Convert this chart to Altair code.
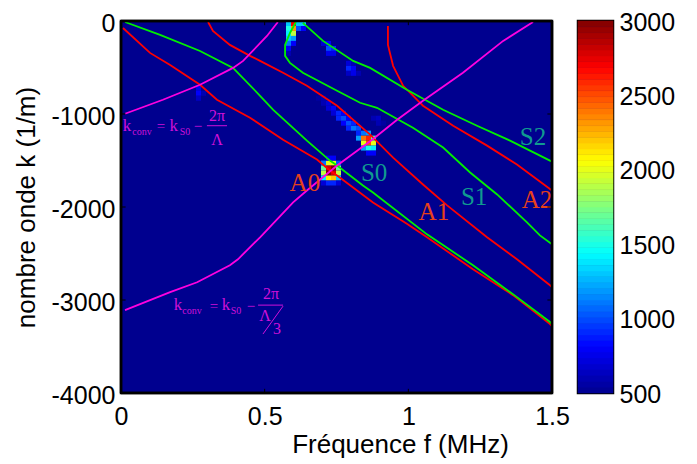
import altair as alt
import pandas as pd
import numpy as np

A0_f = [.007,.101,.171,.275,.334,.449,.564,.682,.727,.752,.877,.995,1.065,1.225,1.364,1.493,1.5]
A0_k = [-75,-343,-472,-686,-847,-1040,-1276,-1490,-1608,-1662,-1951,-2180,-2326,-2669,-2948,-3259,-3280]
S0_f = [.014,.136,.275,.390,.484,.529,.647,.727,.752,.842,.877,1.065,1.225,1.364,1.493,1.5]
S0_k = [-11,-150,-322,-504,-804,-954,-1286,-1501,-1554,-1769,-1844,-2294,-2626,-2937,-3237,-3260]
A1_f = [.303,.320,.379,.449,.484,.564,.647,.752,.867,.947,1.051,1.135,1.274,1.378,1.493,1.5]
A1_k = [-11,-107,-257,-375,-429,-557,-697,-911,-1222,-1469,-1758,-1983,-2326,-2562,-2841,-2860]
S1_f = [.609,.588,.571,.571,.588,.633,.752,.832,.891,1.016,1.121,1.215,1.309,1.413,1.458,1.5]
S1_k = [-11,-129,-257,-375,-450,-557,-750,-879,-933,-1147,-1361,-1629,-1865,-2165,-2305,-2401]
S2_f = [.633,.703,.808,.867,.995,1.121,1.239,1.354,1.5]
S2_k = [-21,-214,-429,-504,-740,-954,-1126,-1286,-1512]
A2_f = [.929,.929,.947,.982,1.051,1.156,1.274,1.378,1.5]
A2_k = [-54,-257,-482,-697,-911,-1126,-1340,-1544,-1822]
M1_f = [.014,.146,.275,.390,.425,.508,.546]
M1_k = [-997,-847,-686,-504,-429,-161,-11]
M2_f = [.014,.171,.265,.379,.407,.484,.599,.647,.752,.874,.961,1.051,1.190,1.330,1.434]
M2_k = [-3109,-2916,-2809,-2626,-2562,-2326,-1951,-1822,-1554,-1276,-1061,-858,-557,-214,-11]

# hot cells of the spectrum: (grid column, grid row, amplitude)
heat_cells = [
    (40,28,1100),(41,28,2000),(42,28,2000),(43,28,1000),
    (40,29,1700),(41,29,2800),(42,29,3000),(43,29,1700),
    (40,30,1900),(41,30,3000),(42,30,2800),(43,30,1900),
    (40,31,1400),(41,31,2100),(42,31,2200),(43,31,1300),
    (40,32,700),(41,32,900),(42,32,900),(43,32,700),(41,27,800),(42,27,800),
    (47,22,900),(48,22,1100),(49,22,1200),
    (47,23,1200),(48,23,2400),(49,23,2600),(50,23,1600),
    (48,24,2000),(49,24,2500),(50,24,2000),
    (48,25,1200),(49,25,1500),(50,25,1400),(49,26,800),(50,26,800),
    (45,21,900),(46,21,1100),(47,21,1000),(44,20,800),(45,20,1000),(46,20,900),
    (43,19,900),(44,19,1000),(45,19,800),(42,18,700),(43,18,900),(44,18,800),
    (41,17,700),(42,17,800),(40,16,600),(41,16,700),(39,15,550),(40,15,600),
    (40,4,700),(41,4,800),(41,5,1000),(42,5,900),(41,6,750),(42,6,750),
    (45,8,700),(46,8,600),(45,9,900),(46,9,800),(45,10,650),(46,10,750),(47,10,600),
    (50,19,600),(51,19,650),(51,20,600),(52,20,550),
    (15,13,750),(15,14,800),(16,14,600),(15,15,650),
    (33,0,1300),(34,0,2700),(35,0,1300),(36,0,1300),
    (33,1,1500),(34,1,2300),(35,1,1000),(36,1,800),
    (33,2,1400),(34,2,1900),(33,3,1300),(34,3,1200),
    (33,4,1100),(34,4,800),(33,5,800),(33,6,600),
]

mode_labels = ["A0","S0","A1","S1","A2","S2"]
mode_f = [.640,.881,1.089,1.229,1.448,1.434]
mode_k = [-1737,-1630,-2058,-1897,-1930,-1243]
mode_colors = ["#e8401a","#109a90","#e8401a","#109a90","#e8401a","#109a90"]

formula_text = ["k","conv","=","k","S0","−","2π","Λ", "k","conv","=","k","S0","−","2π","Λ","3"]
formula_f = [.021,.073,.139,.184,.223,.268,.334,.334, .198,.247,.324,.365,.400,.452,.522,.501,.543]
formula_k = [-1126,-1190,-1126,-1126,-1190,-1126,-1018,-1276, -3055,-3120,-3066,-3055,-3120,-3066,-2937,-3173,-3312]
formula_size = [17,10,15,17,10,15,16,16, 17,10,15,17,10,15,16,16,16]
bars_f = [.299,.477,.494]
bars_f2 = [.369,.564,.564]
bars_k = [-1126,-3055,-3366]
bars_k2 = [-1126,-3055,-3066]

x_ticks = [0,0.5,1,1.5]
y_ticks = [0,-1000,-2000,-3000,-4000]
c_ticks = [500,1000,1500,2000,2500,3000]
jet_domain = [500,812,1437,2062,2687,3000]
jet_range = ["#00008f","#0000ff","#00ffff","#ffff00","#ff0000","#800000"]
bar_levels = np.linspace(500,3000,65).tolist()

FONT = "Liberation Sans"
SERIF = "Liberation Serif"
BG = "#00008f"
color_scale = alt.Scale(domain=jet_domain, range=jet_range, interpolate="rgb", clamp=True)
xs = alt.Scale(domain=[0,1.5], nice=False, zero=False)
ys = alt.Scale(domain=[-4000,0], nice=False, zero=False)

x_axis = alt.Axis(values=x_ticks, title="Fréquence f (MHz)", ticks=False, domain=False, grid=False,
        labelExpr="'' + datum.value", labelFont=FONT, labelFontSize=25, labelColor="black",
        labelPadding=11, labelFlush=False, titleFont=FONT, titleFontSize=26, titleFontWeight="normal",
        titleColor="black", titlePadding=2, titleX=279)
y_axis = alt.Axis(values=y_ticks, title="nombre onde k (1/m)", ticks=False, domain=False, grid=False,
        labelExpr="'' + datum.value", labelFont=FONT, labelFontSize=25, labelColor="black",
        labelPadding=6, labelFlush=False, labelOffset=2, titleFont=FONT, titleFontSize=26, titleFontWeight="normal",
        titleColor="black", titlePadding=12)

def X(field):
    return alt.X(field + ":Q", scale=xs, axis=x_axis, title="Fréquence f (MHz)")
def Y(field):
    return alt.Y(field + ":Q", scale=ys, axis=y_axis, title="nombre onde k (1/m)")

heat = pd.DataFrame(heat_cells, columns=["col","row","v"])
heat_layer = alt.Chart(heat).transform_calculate(
    f="datum.col*0.0174", f2="(datum.col+1)*0.0174",
    k="-datum.row*53.6", k2="-(datum.row+1)*53.6",
).mark_rect().encode(
    x=X("f"), x2="f2:Q", y=Y("k"), y2="k2:Q",
    color=alt.Color("v:Q", scale=color_scale, legend=None),
)

def curve(f, k, color):
    return alt.Chart(pd.DataFrame({"f":f,"k":k,"i":list(range(len(f)))})).mark_line(
        color=color, strokeWidth=1.8).encode(x=X("f"), y=Y("k"), order="i:Q")

curves = [curve(A0_f,A0_k,"#ff0000"), curve(A1_f,A1_k,"#ff0000"), curve(A2_f,A2_k,"#ff0000"),
          curve(S0_f,S0_k,"#00f000"), curve(S1_f,S1_k,"#00f000"), curve(S2_f,S2_k,"#00f000"),
          curve(M1_f,M1_k,"#ff00e0"), curve(M2_f,M2_k,"#ff00e0")]

modes = alt.Chart(pd.DataFrame({"t":mode_labels,"f":mode_f,"k":mode_k,"c":mode_colors})).mark_text(
    font=SERIF, fontSize=25, align="center", baseline="middle").encode(
    x=X("f"), y=Y("k"), text="t:N", color=alt.Color("c:N", scale=None))

formula = alt.Chart(pd.DataFrame({"t":formula_text,"f":formula_f,"k":formula_k,"s":formula_size})).mark_text(
    font=SERIF, color="#d010d8", align="center", baseline="middle").encode(
    x=X("f"), y=Y("k"), text="t:N", size=alt.Size("s:Q", scale=None, legend=None))

bars = alt.Chart(pd.DataFrame({"f":bars_f,"f2":bars_f2,"k":bars_k,"k2":bars_k2})).mark_rule(
    color="#d010d8", strokeWidth=1).encode(x=X("f"), x2="f2:Q", y=Y("k"), y2="k2:Q")

ticks_df = pd.DataFrame(
    [{"x":v,"x2":v,"y":-4000,"y2":-3955} for v in x_ticks[1:-1]] +
    [{"x":v,"x2":v,"y":0,"y2":-45} for v in x_ticks[1:-1]] +
    [{"x":0,"x2":0.016,"y":v,"y2":v} for v in y_ticks[1:-1]] +
    [{"x":1.5,"x2":1.484,"y":v,"y2":v} for v in y_ticks[1:-1]])
tick_rules = alt.Chart(ticks_df).mark_rule(color="black", strokeWidth=1).encode(
    x=X("x"), x2="x2:Q", y=Y("y"), y2="y2:Q")

frame_df = pd.DataFrame([
    {"x":0,"x2":0,"y":-4000,"y2":0},
    {"x":1.5,"x2":1.5,"y":-4000,"y2":0},
    {"x":0,"x2":1.5,"y":0,"y2":0},
    {"x":0,"x2":1.5,"y":-4000,"y2":-4000},
])
frame_rules = alt.Chart(frame_df).mark_rule(color="black", strokeWidth=2.5).encode(
    x=X("x"), x2="x2:Q", y=Y("y"), y2="y2:Q")

main = alt.layer(heat_layer, *curves, modes, formula, bars, tick_rules, frame_rules).properties(width=431, height=372)

bar_df = pd.DataFrame({"v":bar_levels[:-1], "v2":bar_levels[1:]})
bar_df["mid"] = (bar_df.v + bar_df.v2)/2
cbar = alt.Chart(bar_df).mark_rect(strokeWidth=0.6).encode(
    y=alt.Y("v:Q", scale=alt.Scale(domain=[500,3000], nice=False, zero=False), axis=alt.Axis(
        orient="right", values=c_ticks, title=None, ticks=False, domain=False, grid=False,
        labelFont=FONT, labelFontSize=25, labelColor="black", labelPadding=6, labelFlush=False, labelOffset=1,
        labelExpr="'' + datum.value")),
    y2="v2:Q",
    color=alt.Color("mid:Q", scale=color_scale, legend=None),
    stroke=alt.Stroke("mid:Q", scale=color_scale, legend=None),
).properties(width=35, height=372)

chart = alt.hconcat(main, cbar, spacing=5).resolve_scale(color="independent").properties(
    background="white",
    padding={"left":3,"top":0,"right":0,"bottom":0}
).configure_view(stroke="black", strokeWidth=2.5, fill=BG)

chart.save("out.html", embed_options={"renderer": "svg", "actions": False})
